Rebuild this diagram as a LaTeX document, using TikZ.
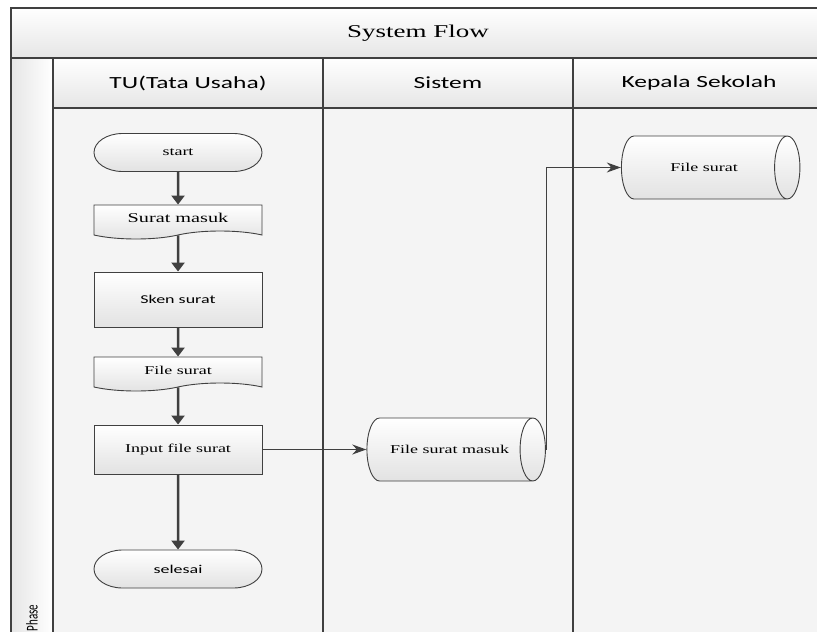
\documentclass[tikz,border=0pt]{standalone}
\usepackage{fontspec}
\setmainfont{Liberation Serif}
\newfontfamily\calibri{Carlito}
\usetikzlibrary{arrows.meta,shapes.misc,shapes.symbols,shapes.geometric}

\definecolor{darkline}{RGB}{64,64,64}
\definecolor{lanebg}{RGB}{244,244,244}
\definecolor{bandbot}{RGB}{230,230,230}
\definecolor{boxbot}{RGB}{226,226,226}

\tikzset{
  laneline/.style={draw=darkline, line width=1.5pt},
  lanetitle/.style={font=\calibri\fontsize{17}{20}\selectfont},
  serifsmall/.style={font=\fontsize{12}{14}\selectfont},
  sanssmall/.style={font=\calibri\fontsize{12}{14}\selectfont},
  terminal/.style={rounded rectangle, draw=darkline, line width=0.9pt, top color=white, bottom color=boxbot,
    minimum width=112pt, minimum height=38pt, inner sep=0pt},
  process/.style={rectangle, draw=darkline, line width=0.9pt, top color=white, bottom color=boxbot,
    minimum width=112pt, inner sep=0pt},
  document/.style={tape, tape bend top=none, tape bend bottom=in and out, tape bend height=8pt,
    draw=darkline, line width=0.9pt, top color=white, bottom color=boxbot,
    minimum width=112pt, minimum height=34pt, inner sep=0pt},
  storage/.style={cylinder, shape aspect=2, draw=darkline, line width=0.9pt, top color=white, bottom color=boxbot,
    minimum width=63pt, minimum height=119pt, inner sep=0pt},
  flowline/.style={darkline, line width=2.5pt, -{Triangle[length=9pt,width=13pt]}},
  dataline/.style={darkline, line width=1.2pt, -{Stealth[length=14pt,width=10pt]}},
}

\begin{document}
\begin{tikzpicture}[x=0.66667pt, y=-1pt, xscale=1.5, every node/.style={transform shape}]
\useasboundingbox (0,0) rectangle (817,632);
\clip (0,0) rectangle (817,632);

\fill[lanebg] (53,108) rectangle (825,640);
\shade[top color=white, bottom color=bandbot] (11,8) rectangle (825,58);
\shade[top color=white, bottom color=bandbot] (53,58) rectangle (825,108);
\shade[left color=bandbot, right color=white] (11,58) rectangle (53,640);

\draw[laneline] (11,8) rectangle (825,640);
\draw[laneline] (11,58) -- (825,58);
\draw[laneline] (53,108) -- (825,108);
\foreach \x in {53,323,573}
  \draw[laneline] (\x,58) -- (\x,640);

\node[font=\fontsize{18}{22}\selectfont] (title) at (418,33) {System Flow};
\node[lanetitle] (tu) at (188,83) {TU(Tata Usaha)};
\node[lanetitle] (sistem) at (448,83) {Sistem};
\node[lanetitle] (kepsek) at (699,83) {Kepala Sekolah};
\node[rotate=90, font=\calibri\fontsize{11}{13}\selectfont] (phase) at (32,618) {Phase};

\node[terminal, serifsmall] (start) at (178,152.5) {start};
\node[document, font=\fontsize{13.5}{16}\selectfont] (masuk) at (178,218) {Surat masuk};
\node[process, sanssmall, minimum height=55pt] (sken) at (178,299.5) {Sken surat};
\node[document, serifsmall] (filesurat) at (178,370) {File surat};
\node[process, serifsmall, minimum height=49pt] (input) at (178,449.5) {Input file surat};
\node[terminal, sanssmall] (selesai) at (178,569) {selesai};

\node[storage, serifsmall] (fsm) at (449.5,449.5) {File surat masuk};
\node[storage, serifsmall] (fsk) at (704,167.5) {File surat};

\draw[flowline] (start) -- (masuk);
\draw[flowline] (masuk) -- (sken);
\draw[flowline] (sken) -- (filesurat);
\draw[flowline] (filesurat) -- (input);
\draw[flowline] (input) -- (selesai);
\draw[dataline] (input) -- (fsm);
\draw[dataline] (fsm.east) |- (fsk.west);
\end{tikzpicture}
\end{document}
